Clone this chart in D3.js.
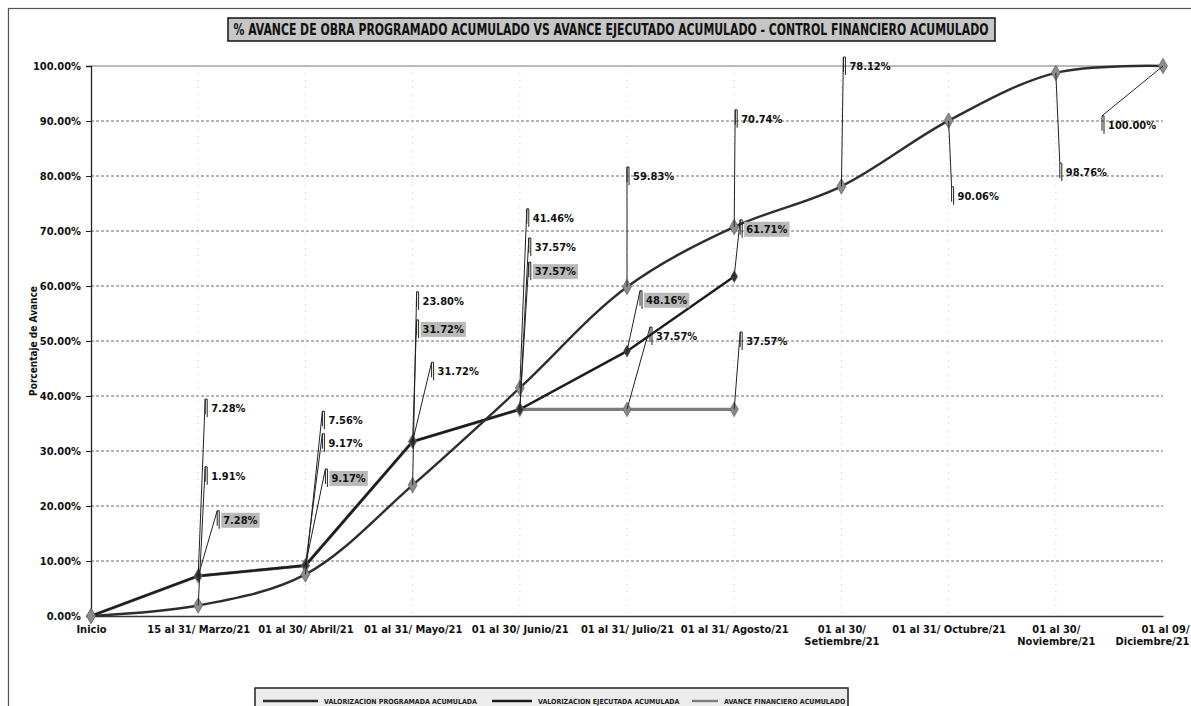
<!DOCTYPE html>
<html>
<head>
<meta charset="utf-8">
<script src="https://cdn.jsdelivr.net/npm/d3@7"></script>
<style>
  body { margin: 0; background: #fff; }
  text { font-family: 'Liberation Sans Narrow', 'DejaVu Sans Condensed', 'Arial Narrow', sans-serif; font-weight: bold; }
</style>
</head>
<body>
<div id="chart"></div>
<script>
// data
const categorias = ['Inicio', '15 al 31/ Marzo/21', '01 al 30/ Abril/21', '01 al 31/ Mayo/21', '01 al 30/ Junio/21',
  '01 al 31/ Julio/21', '01 al 31/ Agosto/21', '01 al 30/|Setiembre/21', '01 al 31/ Octubre/21',
  '01 al 30/|Noviembre/21', '01 al 09/|Diciembre/21']
const programado = [0, 1.91, 7.56, 23.80, 41.46, 59.83, 70.74, 78.12, 90.06, 98.76, 100.00]
const ejecutado = [0, 7.28, 9.17, 31.72, 37.57, 48.16, 61.71]
const financiero = [0, 7.28, 9.17, 31.72, 37.57, 37.57, 37.57]
const yTicks = [0, 10, 20, 30, 40, 50, 60, 70, 80, 90, 100]
const titulo = '% AVANCE DE OBRA PROGRAMADO ACUMULADO VS AVANCE EJECUTADO ACUMULADO - CONTROL FINANCIERO ACUMULADO'
const leyenda = ['VALORIZACION PROGRAMADA ACUMULADA', 'VALORIZACION EJECUTADA ACUMULADA', 'AVANCE FINANCIERO ACUMULADO']

// label placement: [dx px, label height in %]
const lblProg = [null, [13, 25.5], [23, 35.6], [10, 57.3], [13, 72.4], [6, 80.0], [7, 90.4], [8, 100.0], [9, 76.4], [10, 80.7], [-55, 89.3]]
const lblEjec = [null, [25, 17.5], [26, 25.1], [10, 52.2], [15, 62.7], [19, 57.5], [12, 70.4]]
const lblFin = [null, [13, 37.8], [23, 31.5], [25, 44.5], [15, 67.1], [29, 50.9], [12, 50.0]]

// const
const width = 1191
const height = 706
const margin = { top: 66, right: 28, bottom: 90, left: 91 }

const svg = d3.select('#chart')
  .append('svg')
  .attr('width', width)
  .attr('height', height)

// outer frame
svg.append('rect')
  .attr('x', 8.5).attr('y', 8.5)
  .attr('width', 1200).attr('height', 720)
  .attr('fill', 'none').attr('stroke', '#555').attr('stroke-width', 1.2)

const x = d3.scalePoint()
  .domain(categorias)
  .range([margin.left, width - margin.right])
const y = d3.scaleLinear()
  .domain([0, 100])
  .range([height - margin.bottom, margin.top])

// grid
svg.append('g')
  .selectAll('line')
  .data(yTicks.filter(t => t > 0 && t < 100))
  .join('line')
  .attr('x1', margin.left).attr('x2', width - margin.right)
  .attr('y1', d => y(d)).attr('y2', d => y(d))
  .attr('stroke', '#444').attr('stroke-width', 0.8).attr('stroke-dasharray', '3,2')
svg.append('g')
  .selectAll('line')
  .data(categorias.slice(1, -1))
  .join('line')
  .attr('x1', d => x(d)).attr('x2', d => x(d))
  .attr('y1', y(100)).attr('y2', y(0))
  .attr('stroke', '#bbb').attr('stroke-width', 0.8).attr('stroke-dasharray', '1,6')
svg.append('line')
  .attr('x1', margin.left).attr('x2', width - margin.right)
  .attr('y1', y(100)).attr('y2', y(100))
  .attr('stroke', '#777').attr('stroke-width', 1)

// y axis
svg.append('g')
  .attr('transform', `translate(${margin.left}, 0)`)
  .call(d3.axisLeft(y).tickValues(yTicks).tickSize(5).tickFormat(d => d.toFixed(2) + '%'))
  .call(g => g.select('.domain').attr('stroke', '#222').attr('stroke-width', 1.3))
  .call(g => g.selectAll('.tick line').attr('stroke', '#222'))
  .call(g => g.selectAll('.tick text').attr('font-size', 11).attr('fill', '#111').attr('x', -10)
    .style('font-family', "'Liberation Sans Narrow','DejaVu Sans Condensed',sans-serif").style('font-weight', 'bold'))

// x axis
const xAxis = svg.append('g')
  .attr('transform', `translate(0, ${y(0)})`)
  .call(d3.axisBottom(x).tickSize(0).tickFormat(''))
xAxis.select('.domain').attr('stroke', '#333').attr('stroke-width', 1.3)
xAxis.selectAll('.tick').each(function(d, i, nodes) {
  const last = i === nodes.length - 1
  const t = d3.select(this).append('text')
    .attr('fill', '#111').attr('font-size', 11).attr('y', 17)
    .attr('text-anchor', last ? 'end' : 'middle')
  d.split('|').forEach((s, k) => t.append('tspan').attr('x', last ? 26 : 0).attr('dy', k ? 12 : 0).text(s))
})

svg.append('text')
  .attr('transform', `translate(37, ${y(50)}) rotate(-90)`)
  .attr('text-anchor', 'middle').attr('font-size', 10).attr('fill', '#111')
  .text('Porcentaje de Avance')

// lines
const lineProg = d3.line().x((d, i) => x(categorias[i])).y(d => y(d)).curve(d3.curveCatmullRom.alpha(0.5))
const lineLin = d3.line().x((d, i) => x(categorias[i])).y(d => y(d))

svg.append('path').datum(financiero).attr('d', lineLin)
  .attr('fill', 'none').attr('stroke', '#7d7d7d').attr('stroke-width', 3.2)
svg.append('path').datum(ejecutado).attr('d', lineLin)
  .attr('fill', 'none').attr('stroke', '#1c1c1c').attr('stroke-width', 2.4)
svg.append('path').datum(programado).attr('d', lineProg)
  .attr('fill', 'none').attr('stroke', '#2e2e2e').attr('stroke-width', 2.4)

const diamond = d3.symbol().type(d3.symbolDiamond)
function markers(data, size, color) {
  svg.append('g').selectAll('path')
    .data(data)
    .join('path')
    .attr('transform', (d, i) => `translate(${x(categorias[i])}, ${y(d)})`)
    .attr('d', diamond.size(size)())
    .attr('fill', color).attr('stroke', '#555').attr('stroke-width', 0.6)
}
markers(financiero, 60, '#8a8a8a')
markers(ejecutado, 40, '#333')
markers(programado, 70, '#8c8c8c')

// data labels
function labels(data, pos, boxed) {
  const g = svg.append('g')
  data.forEach((v, i) => {
    if (!pos[i]) return
    const px = x(categorias[i]), py = y(v)
    const tx = px + pos[i][0], ty = y(pos[i][1])
    const bx = tx - 6
    g.append('path')
      .attr('d', `M${px},${py}L${bx},${ty - 9}L${bx + 2},${ty - 9}L${bx + 2},${ty + 9}`)
      .attr('fill', 'none').attr('stroke', '#222').attr('stroke-width', 1)
    g.append('line')
      .attr('x1', bx).attr('x2', bx).attr('y1', ty - 9).attr('y2', ty + 6)
      .attr('stroke', '#222').attr('stroke-width', 1)
    const t = g.append('text')
      .attr('x', tx).attr('y', ty + 4)
      .attr('font-size', 11).attr('fill', '#111')
      .text(v.toFixed(2) + '%')
    if (boxed) {
      const b = t.node().getBBox()
      g.insert('rect', 'text')
        .attr('x', b.x - 2).attr('y', b.y - 1)
        .attr('width', b.width + 4).attr('height', b.height + 2)
        .attr('fill', '#b9b9b9')
    }
  })
}
labels(programado, lblProg, false)
labels(financiero, lblFin, false)
labels(ejecutado, lblEjec, true)

// title
svg.append('rect')
  .attr('x', 228).attr('y', 18).attr('width', 767).attr('height', 23)
  .attr('fill', '#c6c6c6').attr('stroke', '#111').attr('stroke-width', 1.5)
svg.append('text')
  .attr('x', 611).attr('y', 35)
  .attr('text-anchor', 'middle').attr('font-size', 15).attr('fill', '#111')
  .attr('textLength', 755).attr('lengthAdjust', 'spacingAndGlyphs')
  .text(titulo)

// legend (sits at the bottom edge of the picture)
svg.append('rect')
  .attr('x', 255).attr('y', 688).attr('width', 593).attr('height', 40)
  .attr('fill', '#ececec').attr('stroke', '#222').attr('stroke-width', 1.5)
const legLine = [[263, 318], [492, 532], [692, 718]]
const legStroke = ['#2e2e2e', '#1c1c1c', '#7d7d7d']
leyenda.forEach((s, i) => {
  svg.append('line')
    .attr('x1', legLine[i][0]).attr('x2', legLine[i][1]).attr('y1', 701).attr('y2', 701)
    .attr('stroke', legStroke[i]).attr('stroke-width', 2.4)
  svg.append('text')
    .attr('x', legLine[i][1] + 6).attr('y', 704)
    .attr('font-size', 7).attr('fill', '#222')
    .text(s)
})
</script>
</body>
</html>
